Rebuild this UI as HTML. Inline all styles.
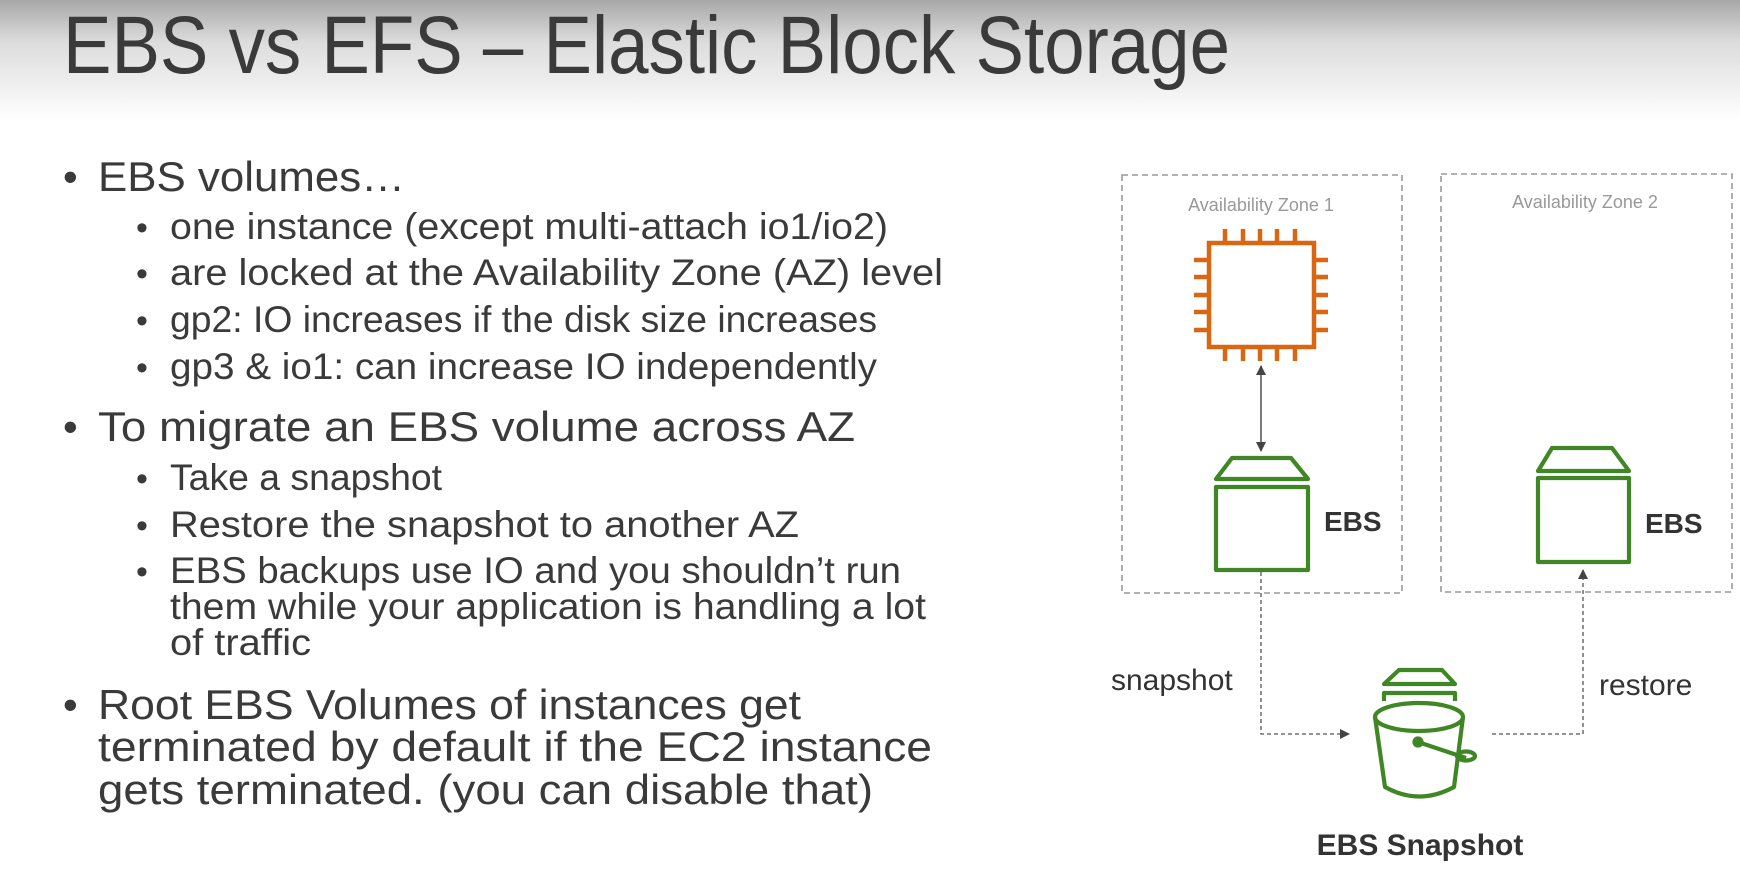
<!DOCTYPE html>
<html><head><meta charset="utf-8"><style>
html,body{margin:0;padding:0;background:#fff;}
svg{display:block;}
.t{font-family:"Liberation Sans",sans-serif;fill:#3a3a3a;}
</style></head><body>
<svg width="1740" height="880" viewBox="0 0 1740 880" xmlns="http://www.w3.org/2000/svg">
<defs>
<linearGradient id="g" x1="0" y1="0" x2="0" y2="1">
<stop offset="0" stop-color="#a8a8a8"/><stop offset="0.35" stop-color="#dcdcdc"/><stop offset="1" stop-color="#ffffff"/>
</linearGradient>
<marker id="ah" viewBox="0 0 10 10" refX="9" refY="5" markerWidth="10" markerHeight="10" orient="auto-start-reverse" markerUnits="userSpaceOnUse"><path d="M0,0 L10,5 L0,10 z" fill="#444"/></marker>
</defs>
<rect x="0" y="0" width="1740" height="120" fill="url(#g)"/>
<text class="t" x="63" y="73" font-size="82" textLength="1167" lengthAdjust="spacingAndGlyphs">EBS vs EFS – Elastic Block Storage</text>

<g class="t">
<text x="63" y="191" font-size="42">•</text>
<text x="98" y="191" font-size="42" textLength="307" lengthAdjust="spacingAndGlyphs">EBS volumes…</text>
<text x="136" y="239" font-size="34">•</text>
<text x="170" y="239" font-size="37" textLength="718" lengthAdjust="spacingAndGlyphs">one instance (except multi-attach io1/io2)</text>
<text x="136" y="285" font-size="34">•</text>
<text x="170" y="285" font-size="37" textLength="773" lengthAdjust="spacingAndGlyphs">are locked at the Availability Zone (AZ) level</text>
<text x="136" y="332" font-size="34">•</text>
<text x="170" y="332" font-size="37" textLength="707" lengthAdjust="spacingAndGlyphs">gp2: IO increases if the disk size increases</text>
<text x="136" y="379" font-size="34">•</text>
<text x="170" y="379" font-size="37" textLength="707" lengthAdjust="spacingAndGlyphs">gp3 &amp; io1: can increase IO independently</text>
<text x="63" y="441" font-size="42">•</text>
<text x="98" y="441" font-size="42" textLength="757" lengthAdjust="spacingAndGlyphs">To migrate an EBS volume across AZ</text>
<text x="136" y="490" font-size="34">•</text>
<text x="170" y="490" font-size="37" textLength="272" lengthAdjust="spacingAndGlyphs">Take a snapshot</text>
<text x="136" y="537" font-size="34">•</text>
<text x="170" y="537" font-size="37" textLength="629" lengthAdjust="spacingAndGlyphs">Restore the snapshot to another AZ</text>
<text x="136" y="583" font-size="34">•</text>
<text x="170" y="583" font-size="37" textLength="731" lengthAdjust="spacingAndGlyphs">EBS backups use IO and you shouldn’t run</text>
<text x="170" y="619" font-size="37" textLength="756" lengthAdjust="spacingAndGlyphs">them while your application is handling a lot</text>
<text x="170" y="655" font-size="37" textLength="141" lengthAdjust="spacingAndGlyphs">of traffic</text>
<text x="63" y="719" font-size="42">•</text>
<text x="98" y="719" font-size="42" textLength="703" lengthAdjust="spacingAndGlyphs">Root EBS Volumes of instances get</text>
<text x="98" y="761" font-size="42" textLength="834" lengthAdjust="spacingAndGlyphs">terminated by default if the EC2 instance</text>
<text x="98" y="804" font-size="42" textLength="775" lengthAdjust="spacingAndGlyphs">gets terminated. (you can disable that)</text>
</g>

<!-- zones -->
<rect x="1122" y="175" width="280" height="418" fill="none" stroke="#999" stroke-width="1.6" stroke-dasharray="6,4"/>
<rect x="1441" y="174" width="291" height="418" fill="none" stroke="#999" stroke-width="1.6" stroke-dasharray="6,4"/>
<text x="1261" y="211" font-family="Liberation Sans,sans-serif" font-size="18" fill="#999" text-anchor="middle">Availability Zone 1</text>
<text x="1585" y="208" font-family="Liberation Sans,sans-serif" font-size="18" fill="#999" text-anchor="middle">Availability Zone 2</text>

<!-- chip -->
<g stroke="#d86613" stroke-width="4.5" fill="none">
<rect x="1209" y="243" width="105" height="104"/>
<path d="M1225,229V243M1243,229V243M1260,229V243M1277,229V243M1295,229V243"/>
<path d="M1225,347V361M1243,347V361M1260,347V361M1277,347V361M1295,347V361"/>
<path d="M1194,260H1209M1194,277H1209M1194,295H1209M1194,312H1209M1194,330H1209"/>
<path d="M1314,260H1328M1314,277H1328M1314,295H1328M1314,312H1328M1314,330H1328"/>
</g>
<line x1="1261" y1="366" x2="1261" y2="451" stroke="#444" stroke-width="1.4" marker-start="url(#ah)" marker-end="url(#ah)"/>

<!-- EBS volumes -->
<g stroke="#3f8624" stroke-width="4.2" fill="none" stroke-linejoin="round">
<path d="M1232,458H1291L1308,479H1216Z"/>
<rect x="1216" y="487" width="92" height="83"/>
<path d="M1552,448H1612L1629,471H1538Z"/>
<rect x="1538" y="478" width="91" height="84"/>
</g>
<text x="1324" y="531" font-family="Liberation Sans,sans-serif" font-weight="bold" font-size="28" fill="#333">EBS</text>
<text x="1645" y="533" font-family="Liberation Sans,sans-serif" font-weight="bold" font-size="28" fill="#333">EBS</text>

<!-- connectors -->
<path d="M1261,572V734H1349" fill="none" stroke="#555" stroke-width="1.3" stroke-dasharray="4,3" marker-end="url(#ah)"/>
<path d="M1492,734H1583V570" fill="none" stroke="#555" stroke-width="1.3" stroke-dasharray="4,3" marker-end="url(#ah)"/>
<text x="1111" y="690" font-family="Liberation Sans,sans-serif" font-size="30" fill="#333">snapshot</text>
<text x="1599" y="695" font-family="Liberation Sans,sans-serif" font-size="30" fill="#333">restore</text>

<!-- bucket -->
<g stroke="#3f8624" stroke-width="4.2" fill="none" stroke-linejoin="round">
<path d="M1399,670H1442L1455,684H1384Z"/>
<path d="M1384,701V693H1455V701"/>
<ellipse cx="1419" cy="717" rx="44" ry="14"/>
<path d="M1375,717L1385,787Q1419,806 1454,787L1463,717"/>
<path d="M1418,742L1466,758"/>
<ellipse cx="1466" cy="756" rx="9" ry="4.5"/>
<circle cx="1418" cy="742" r="3.5" fill="#3f8624"/>
</g>
<text x="1420" y="855" font-family="Liberation Sans,sans-serif" font-weight="bold" font-size="30" fill="#333" text-anchor="middle">EBS Snapshot</text>
</svg>
</body></html>
